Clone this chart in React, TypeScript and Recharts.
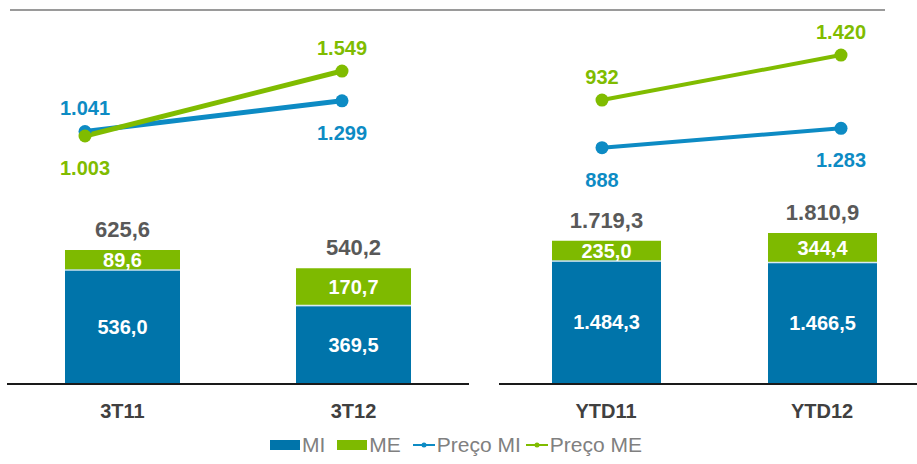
import React from "react";
import { ComposedChart, Bar, Line, XAxis, YAxis, LabelList, Legend } from "recharts";

// left panel: quarters
const quarters = ["3T11", "3T12"];
const quarterMi = [536.0, 369.5];
const quarterMe = [89.6, 170.7];
const quarterPrecoMi = [1041, 1299];
const quarterPrecoMe = [1003, 1549];

// right panel: year to date
const ytdPeriods = ["YTD11", "YTD12"];
const ytdMi = [1484.3, 1466.5];
const ytdMe = [235.0, 344.4];
const ytdPrecoMi = [888, 1283];
const ytdPrecoMe = [932, 1420];

const legendOrder = ["MI", "ME", "Preço MI", "Preço ME"];

const W = 917;
const H = 464;
const FONT = '"Liberation Sans", Arial, sans-serif';
const BAR_BLUE = "#0074aa";
const BAR_GREEN = "#7eba00";
const LINE_BLUE = "#0d8bc4";
const LINE_GREEN = "#80bc00";

// pt-BR number format: 1.719,3
function fmt(v: number, dec = 0) {
  const [int, frac] = v.toFixed(dec).split(".");
  const grouped = int.replace(/\B(?=(\d{3})+(?!\d))/g, ".");
  return frac ? `${grouped},${frac}` : grouped;
}

function buildRows(names: string[], mi: number[], me: number[], pMi: number[], pMe: number[]) {
  return names.map((name, i) => ({
    name,
    mi: mi[i],
    me: me[i],
    total: mi[i] + me[i],
    precoMi: pMi[i],
    precoMe: pMe[i],
  }));
}

const quarterRows = buildRows(quarters, quarterMi, quarterMe, quarterPrecoMi, quarterPrecoMe);
const ytdRows = buildRows(ytdPeriods, ytdMi, ytdMe, ytdPrecoMi, ytdPrecoMe);

const tickStyle = { fontSize: 20, fontWeight: "bold", fill: "#404040", fontFamily: FONT };
const axisLineStyle = { stroke: "#1a1a1a", strokeWidth: 2 };

// blue segment with the thin white edge where it meets the green one
const MiShape = (p: any) => (
  <g>
    <rect x={p.x} y={p.y} width={p.width} height={p.height} fill={BAR_BLUE} />
    <rect x={p.x} y={p.y} width={p.width} height={1.5} fill="#ffffff" opacity={0.85} />
  </g>
);

// label above or below each point of a price line
const priceLabel = (color: string, below: boolean[]) => (props: any) => {
  const vb = props.viewBox || {};
  const x = props.x ?? vb.x;
  const y = props.y ?? vb.y;
  const down = below[props.index];
  return (
    <text
      x={x}
      y={down ? y + 39 : y - 16}
      textAnchor="middle"
      fill={color}
      fontSize={20}
      fontWeight="bold"
      fontFamily={FONT}
    >
      {fmt(Number(props.value))}
    </text>
  );
};

const renderLegend = (props: any) => {
  const items = [...(props.payload || [])].sort(
    (a: any, b: any) => legendOrder.indexOf(a.value) - legendOrder.indexOf(b.value)
  );
  return (
    <div
      style={{
        display: "flex",
        justifyContent: "center",
        alignItems: "center",
        fontFamily: FONT,
        fontSize: 21,
        color: "#808080",
        lineHeight: "24px",
      }}
    >
      {items.map((e: any) => (
        <span
          key={e.value}
          style={{ display: "inline-flex", alignItems: "center", marginRight: e.type === "line" ? 5 : 12 }}
        >
          {e.type === "line" ? (
            <svg width={22} height={10}>
              <line x1={0} y1={5} x2={22} y2={5} stroke={e.color} strokeWidth={2} />
              <circle cx={11} cy={5} r={2.5} fill={e.color} />
            </svg>
          ) : (
            <span style={{ display: "inline-block", width: 30, height: 10, background: e.color }} />
          )}
          <span style={{ marginLeft: 2 }}>{e.value}</span>
        </span>
      ))}
    </div>
  );
};

const insideLabel = {
  position: "center" as const,
  fill: "#ffffff",
  fontSize: 20,
  fontWeight: "bold",
  fontFamily: FONT,
  formatter: (v: any) => fmt(Number(v), 1),
};

const totalLabel = {
  dataKey: "total",
  position: "top" as const,
  offset: 13,
  fill: "#595959",
  fontSize: 22,
  fontWeight: "bold",
  fontFamily: FONT,
  formatter: (v: any) => fmt(Number(v), 1),
};

export default function App() {
  return (
    <div style={{ position: "absolute", left: 0, top: 0, width: W, height: H, background: "#fff" }}>
      <div style={{ position: "absolute", left: 10, top: 9, width: 875, height: 2, background: "#9a9a9a" }} />

      <div style={{ position: "absolute", left: 0, top: 0 }}>
        <ComposedChart
          width={W}
          height={H}
          data={quarterRows}
          margin={{ top: 0, right: W - 469, bottom: 30, left: 7 }}
          style={{ fontFamily: FONT }}
        >
          <XAxis
            xAxisId="bar"
            dataKey="name"
            height={50}
            interval={0}
            tickLine={false}
            tickSize={0}
            tickMargin={20}
            axisLine={axisLineStyle}
            tick={tickStyle}
          />
          <XAxis xAxisId="pt" dataKey="name" scale="point" hide padding={{ left: 78, right: 127 }} />
          <YAxis yAxisId="bar" hide domain={[0, 1793]} allowDataOverflow />
          <YAxis yAxisId="preco" hide domain={[-1081, 2146]} allowDataOverflow />
          <Bar
            xAxisId="bar"
            yAxisId="bar"
            dataKey="mi"
            name="MI"
            stackId="s"
            fill={BAR_BLUE}
            barSize={115}
            shape={MiShape}
            isAnimationActive={false}
          >
            <LabelList dataKey="mi" {...insideLabel} />
          </Bar>
          <Bar
            xAxisId="bar"
            yAxisId="bar"
            dataKey="me"
            name="ME"
            stackId="s"
            fill={BAR_GREEN}
            barSize={115}
            isAnimationActive={false}
          >
            <LabelList dataKey="me" {...insideLabel} />
            <LabelList {...totalLabel} />
          </Bar>
          <Line
            xAxisId="pt"
            yAxisId="preco"
            dataKey="precoMi"
            name="Preço MI"
            stroke={LINE_BLUE}
            strokeWidth={5}
            dot={{ r: 6.5, fill: LINE_BLUE, stroke: LINE_BLUE, strokeWidth: 0 }}
            isAnimationActive={false}
          >
            <LabelList dataKey="precoMi" content={priceLabel(LINE_BLUE, [false, true])} />
          </Line>
          <Line
            xAxisId="pt"
            yAxisId="preco"
            dataKey="precoMe"
            name="Preço ME"
            stroke={LINE_GREEN}
            strokeWidth={5}
            dot={{ r: 6.5, fill: LINE_GREEN, stroke: LINE_GREEN, strokeWidth: 0 }}
            isAnimationActive={false}
          >
            <LabelList dataKey="precoMe" content={priceLabel(LINE_GREEN, [true, false])} />
          </Line>
          <Legend
            content={renderLegend}
            layout="horizontal"
            verticalAlign="middle"
            align="center"
            wrapperStyle={{ left: 0, top: 433, width: W }}
          />
        </ComposedChart>
      </div>

      <div style={{ position: "absolute", left: 0, top: 0 }}>
        <ComposedChart
          width={W}
          height={H}
          data={ytdRows}
          margin={{ top: 0, right: 0, bottom: 30, left: 499 }}
          style={{ fontFamily: FONT }}
        >
          <XAxis
            xAxisId="bar"
            dataKey="name"
            height={50}
            interval={0}
            tickLine={false}
            tickSize={0}
            tickMargin={20}
            axisLine={axisLineStyle}
            tick={tickStyle}
            padding={{ left: -1, right: -13 }}
          />
          <XAxis xAxisId="pt" dataKey="name" scale="point" hide padding={{ left: 103, right: 76 }} />
          <YAxis yAxisId="bar" hide domain={[0, 4607]} allowDataOverflow />
          <YAxis yAxisId="precoMe" hide domain={[-2148, 2017]} allowDataOverflow />
          <YAxis yAxisId="precoMi" hide domain={[-3925, 3896]} allowDataOverflow />
          <Bar
            xAxisId="bar"
            yAxisId="bar"
            dataKey="mi"
            name="MI"
            stackId="s"
            fill={BAR_BLUE}
            barSize={109}
            shape={MiShape}
            isAnimationActive={false}
          >
            <LabelList dataKey="mi" {...insideLabel} />
          </Bar>
          <Bar
            xAxisId="bar"
            yAxisId="bar"
            dataKey="me"
            name="ME"
            stackId="s"
            fill={BAR_GREEN}
            barSize={109}
            isAnimationActive={false}
          >
            <LabelList dataKey="me" {...insideLabel} />
            <LabelList {...totalLabel} />
          </Bar>
          <Line
            xAxisId="pt"
            yAxisId="precoMi"
            dataKey="precoMi"
            name="Preço MI"
            stroke={LINE_BLUE}
            strokeWidth={4}
            dot={{ r: 6.5, fill: LINE_BLUE, stroke: LINE_BLUE, strokeWidth: 0 }}
            isAnimationActive={false}
          >
            <LabelList dataKey="precoMi" content={priceLabel(LINE_BLUE, [true, true])} />
          </Line>
          <Line
            xAxisId="pt"
            yAxisId="precoMe"
            dataKey="precoMe"
            name="Preço ME"
            stroke={LINE_GREEN}
            strokeWidth={4}
            dot={{ r: 6.5, fill: LINE_GREEN, stroke: LINE_GREEN, strokeWidth: 0 }}
            isAnimationActive={false}
          >
            <LabelList dataKey="precoMe" content={priceLabel(LINE_GREEN, [false, false])} />
          </Line>
        </ComposedChart>
      </div>
    </div>
  );
}
